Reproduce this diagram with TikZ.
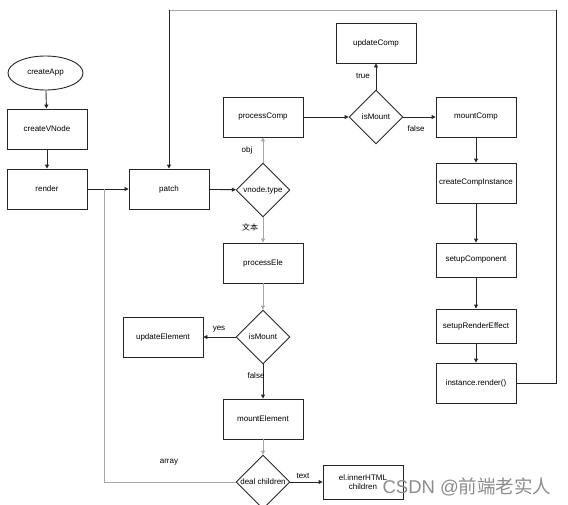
\documentclass[tikz,border=0pt]{standalone}
\usepackage{fontspec}
\setmainfont{Liberation Sans}
\newfontfamily\cjk{Noto Sans CJK SC}
\usetikzlibrary{shapes.geometric,arrows.meta}
\begin{document}
\begin{tikzpicture}[x=1pt,y=-1pt,
  txt/.style={font=\fontsize{8}{9.5}\selectfont},
  box/.style={txt, draw=black!85, line width=0.9pt, minimum width=80pt, minimum height=40pt, inner sep=0pt, align=center},
  sbox/.style={box, minimum height=34pt},
  dia/.style={txt, draw=black!85, line width=0.9pt, diamond, minimum width=54pt, minimum height=54pt, inner sep=0pt},
  oval/.style={txt, draw=black!85, line width=0.9pt, ellipse, minimum width=75pt, minimum height=34pt, inner sep=0pt},
  arr/.style={-{Triangle[length=4pt,width=4pt]}, line width=0.9pt, draw=black!85},
  garr/.style={arr, draw=black!35},
  line/.style={line width=0.9pt, draw=black!85},
  gline/.style={line width=0.9pt, draw=black!35},
  lab/.style={txt, inner sep=0pt}]
\useasboundingbox (0,0) rectangle (568,504);
\clip (0,0) rectangle (568,504);
\fill[white] (0,0) rectangle (568,504);

% left column
\node[oval] (app) at (45.5,73) {createApp};
\node[box] (vn) at (47,129) {createVNode};
\node[box] (rd) at (47,189) {render};
\node[box] (pt) at (169,189) {patch};

% center
\node[dia] (vt) at (263,190) {vnode.type};
\node[box] (pc) at (263,117) {processComp};
\node[dia] (im1) at (376,117) {isMount};
\node[box] (uc) at (376,43) {updateComp};
\node[box] (mc) at (476,117) {mountComp};
\node[box] (ci) at (476,183) {createCompInstance};
\node[sbox] (sc) at (476,260) {setupComponent};
\node[sbox] (sr) at (476,326) {setupRenderEffect};
\node[box] (ir) at (476,383) {instance.render()};

\node[box] (pe) at (263,263) {processEle};
\node[dia] (im2) at (263,337) {isMount};
\node[box] (ue) at (163,337) {updateElement};
\node[box] (me) at (263,419) {mountElement};
\node[dia] (dc) at (263,482) {deal children};
\node[sbox] (ih) at (363,482) {el.innerHTML\\children};

% connectors
\draw[arr] (app) -- (vn);
\draw[arr] (vn) -- (rd);
\draw[arr] (rd) -- (pt);
\draw[arr] (pt) -- (vt);
\draw[garr] (vt) -- (pc);
\draw[garr] (vt) -- (pe);
\draw[arr] (pc) -- (im1);
\draw[arr] (im1) -- (uc);
\draw[arr] (im1) -- (mc);
\draw[arr] (mc) -- (ci);
\draw[arr] (ci) -- (sc);
\draw[arr] (sc) -- (sr);
\draw[arr] (sr) -- (ir);
\draw[garr] (pe) -- (im2);
\draw[arr] (im2) -- (ue);
\draw[arr] (im2) -- (me);
\draw[garr] (me) -- (dc);
\draw[arr] (dc) -- (ih);

% loop back from instance.render() to patch
\coordinate (lr) at (556,10);
\coordinate (ll) at (169,10);
\draw[line] (ir.east) -| (lr);
\draw[gline] (lr) -- (ll);
\draw[arr] (ll) -- (pt.north);

% array branch
\coordinate (aj) at (104,189);
\draw[gline] (dc.west) -| (aj);

% labels
\node[lab] at (247,150) {obj};
\node[lab] at (250,227) {\cjk 文本};
\node[lab] at (363,76) {true};
\node[lab] at (416,129) {false};
\node[lab] at (219,329) {yes};
\node[lab] at (256,376) {false};
\node[lab] at (169,462) {array};
\node[lab] at (303,476) {text};

% watermark
\node[inner sep=0pt, text=black!45, font=\fontsize{18.5}{19}\selectfont] at (467,487) {CSDN @{\cjk 前端老实人}};
\end{tikzpicture}
\end{document}
